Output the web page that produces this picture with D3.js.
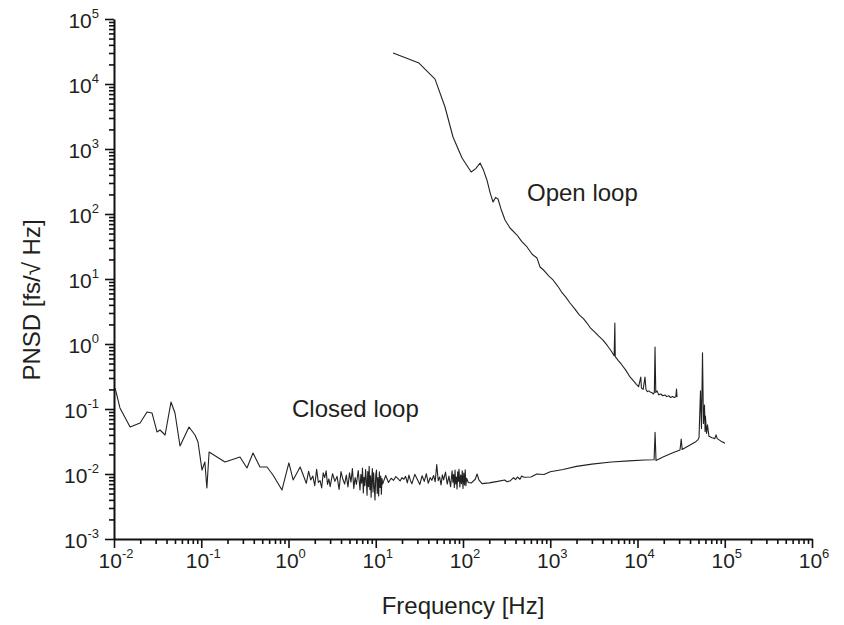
<!DOCTYPE html>
<html><head><meta charset="utf-8">
<script src="https://cdn.jsdelivr.net/npm/d3@7"></script>
<style>
body{margin:0;background:#fff}
text{font-family:"Liberation Sans",Arial,sans-serif;fill:#231f20}
</style>
</head><body>
<svg id="chart" width="844" height="625"></svg>
<script>
// Phase-noise spectral density, closed loop (f in Hz, PNSD in fs/√Hz)
const closedFreq = [
  0.0103,0.0117,0.0153,0.0199,0.0239,0.0273,0.0311,0.0337,0.0385,0.0450,0.0500,0.0571,0.0724,0.0848,0.0918,
  0.102,0.110,0.116,0.123,0.187,0.278,0.334,0.392,0.471,0.567,0.664,0.842,1.01,1.13,1.36,
  1.6,1.7,1.8,1.9,2.0,2.1,2.2,2.3,2.4,2.5,
  2.6,2.7,2.8,2.9,3.0,3.2,3.4,3.6,3.8,4.0,
  4.2,4.4,4.6,4.8,5.0,5.2,5.4,5.6,5.8,6.0,
  6.3,6.6,6.75,6.9,7.05,7.2,7.35,7.5,7.65,7.8,
  7.95,8.1,8.25,8.4,8.55,8.7,8.85,9.0,9.15,9.3,
  9.45,9.6,9.8,10,10.2,10.4,10.6,10.8,11.0,11.2,
  11.4,11.6,11.8,12,
  12.5,13,14,15,16,17,18,19,20,21,
  22,23,24,25,26,28,30,32,34,36,
  38,40,42,44,46,48,50,52,54,56,
  58,60,63,66,69,72,75,76.5,78,79.5,
  81,82.5,84,85.5,87,88.5,90,92,94,96,
  98,100,102,104,106,108,110,
  115,125,138,145,152,165,200,250,300,320,350,380,400,420,450,470,500,600,700,850,1000,1400,2000,3000,5000,8000,12000,
  15500,15900,16300,19600,25000,30700,31700,32500,40000,46000,
  49400,50700,52700,54100,55600,57000,58600,59500,60100,61800,
  63400,65900,71400,77000,79400,82000,90600,100700
];
const closedPsd = [
  0.210,0.104,0.0528,0.0609,0.0899,0.0867,0.0443,0.0475,0.0398,0.128,0.0867,0.0270,0.0528,0.0398,0.0311,
  0.0115,0.0153,0.0061,0.0218,0.0153,0.0183,0.0124,0.0210,0.0128,0.0128,0.00966,0.00568,0.0148,0.00809,0.0128,
  0.0072,0.0110,0.0081,0.0093,0.0066,0.0118,0.0074,0.0079,0.0061,0.0104,
  0.0088,0.0112,0.0069,0.0084,0.0064,0.0101,0.0077,0.0092,0.0058,0.0109,
  0.0083,0.0070,0.0096,0.0063,0.0104,0.0075,0.0121,0.0060,0.0088,0.0069,
  0.0113,0.0057,0.0098,0.0072,0.0124,0.0051,0.0089,0.0066,0.0117,0.0080,
  0.0047,0.0109,0.0064,0.0131,0.0058,0.0094,0.0044,0.0086,0.0121,0.0053,
  0.0104,0.0069,0.0040,0.0097,0.0115,0.0050,0.0088,0.0046,0.0108,0.0062,
  0.0093,0.0049,0.0085,0.0070,
  0.0082,0.0095,0.0074,0.0086,0.0080,0.0091,0.0085,0.0078,0.0088,0.0083,
  0.0092,0.0073,0.0096,0.0079,0.0071,0.0099,0.0082,0.0069,0.0094,0.0077,
  0.0101,0.0072,0.0088,0.0080,0.0095,0.0076,0.0140,0.0079,0.0090,0.0068,
  0.0097,0.0081,0.0107,0.0070,0.0093,0.0064,0.0112,0.0075,0.0098,0.0062,
  0.0115,0.0070,0.0090,0.0059,0.0108,0.0077,0.0118,0.0063,0.0096,0.0071,
  0.0112,0.0060,0.0103,0.0068,0.0116,0.0066,0.0086,
  0.0074,0.0073,0.0083,0.0100,0.0081,0.0071,0.0073,0.0077,0.0081,0.0076,0.0079,0.0088,0.0082,0.0090,0.0083,
  0.0093,0.0089,0.0090,0.0100,0.0098,0.0108,0.0117,0.0131,0.0142,0.0153,0.0159,0.0164,
  0.0166,0.044,0.0162,0.0183,0.0210,0.0234,0.0345,0.0238,0.0279,0.031,
  0.0339,0.036,0.19,0.05,0.73,0.06,0.115,0.045,0.078,0.042,
  0.057,0.038,0.036,0.035,0.040,0.035,0.032,0.0297
];

// Open loop
const openFreq = [
  15.8,31.3,47.8,62.2,76.8,97.5,124,140,157,172,188,205,221,236,252,275,303,346,416,470,542,620,705,764,
  850,960,1076,1200,1350,1500,1684,1900,2150,2400,2637,2900,3200,3600,4024,4500,5000,5400,5500,5560,
  6000,6600,7300,8204,9000,9700,10300,10900,11100,11600,12190,12500,13000,13500,13900,14500,15200,15600,
  15880,16200,16740,17500,18500,19500,20650,21700,22800,24000,25200,26500,27500,28000,28400
];
const openPsd = [
  30000,21000,11900,4430,1530,728,443,500,609,470,334,210,153,180,170,115,80.9,60.9,47.5,38,31.1,24,21.0,15.3,
  13.5,11.2,9.66,8.0,6.3,5.3,4.27,3.5,2.8,2.45,2.10,1.75,1.55,1.32,1.15,0.95,0.78,0.66,2.10,0.64,
  0.56,0.48,0.40,0.311,0.27,0.24,0.22,0.31,0.21,0.20,0.31,0.20,0.185,0.19,0.183,0.18,0.17,0.18,
  0.90,0.18,0.19,0.165,0.17,0.16,0.164,0.155,0.16,0.15,0.156,0.15,0.155,0.203,0.152
];

const xTickExps = [-2,-1,0,1,2,3,4,5,6];
const yTickExps = [-3,-2,-1,0,1,2,3,4,5];
const xTitle = "Frequency [Hz]";
const yTitle = "PNSD [fs/\u221A Hz]";
const seriesLabels = ["Open loop", "Closed loop"];

const svg = d3.select("#chart");
const x = d3.scaleLog().domain([1e-2, 1e6]).range([114, 812]);
const y = d3.scaleLog().domain([1e-3, 1e5]).range([539, 19]);

const majorX = xTickExps.map(e => Math.pow(10, e));
const majorY = yTickExps.map(e => Math.pow(10, e));
const minorsOf = majors => majors.slice(0, -1).flatMap(m => d3.range(2, 10).map(k => k * m));

function styleAxis(g, width) {
  g.selectAll("path").attr("stroke", "#111").attr("stroke-width", width);
  g.selectAll("line").attr("stroke", "#111").attr("stroke-width", 1.6);
  g.selectAll("text").remove();
}

// x axis
svg.append("g").attr("transform", "translate(0,539)")
  .call(d3.axisBottom(x).tickValues(minorsOf(majorX)).tickSize(5).tickSizeOuter(0).tickFormat(""))
  .call(g => { styleAxis(g, 2); g.select("path").remove(); });
svg.append("g").attr("transform", "translate(0,539)")
  .call(d3.axisBottom(x).tickValues(majorX).tickSize(9).tickSizeOuter(0).tickFormat(""))
  .call(g => styleAxis(g, 2));

// y axis
svg.append("g").attr("transform", "translate(114,0)")
  .call(d3.axisLeft(y).tickValues(minorsOf(majorY)).tickSize(5).tickSizeOuter(0).tickFormat(""))
  .call(g => { styleAxis(g, 2); g.select("path").remove(); });
svg.append("g").attr("transform", "translate(114,0)")
  .call(d3.axisLeft(y).tickValues(majorY).tickSize(9).tickSizeOuter(0).tickFormat(""))
  .call(g => styleAxis(g, 2));

// power-of-ten tick labels
function powLabel(sel, e) {
  sel.append("tspan").attr("font-size", 21).text("10");
  sel.append("tspan").attr("font-size", 13).attr("dy", -10).text(e);
}
xTickExps.forEach(e => {
  svg.append("text").attr("x", x(Math.pow(10, e)) + 2).attr("y", 568)
    .attr("text-anchor", "middle").call(powLabel, e);
});
yTickExps.forEach(e => {
  svg.append("text").attr("x", 99).attr("y", y(Math.pow(10, e)) + 9)
    .attr("text-anchor", "end").call(powLabel, e);
});

// axis titles
svg.append("text").attr("x", 463).attr("y", 614).attr("text-anchor", "middle")
  .attr("font-size", 24).text(xTitle);
svg.append("text").attr("transform", "translate(40,300) rotate(-90)").attr("text-anchor", "middle")
  .attr("font-size", 24).text(yTitle);

// spectra
const line = d3.line().x(d => x(d[0])).y(d => y(d[1]));
svg.append("path").datum(d3.zip(closedFreq, closedPsd)).attr("d", line)
  .attr("fill", "none").attr("stroke", "#222").attr("stroke-width", 1.1).attr("stroke-linejoin", "round");
svg.append("path").datum(d3.zip(openFreq, openPsd)).attr("d", line)
  .attr("fill", "none").attr("stroke", "#222").attr("stroke-width", 1.1).attr("stroke-linejoin", "round");

// series labels
svg.append("text").attr("x", 527).attr("y", 201).attr("font-size", 24).text(seriesLabels[0]);
svg.append("text").attr("x", 292).attr("y", 417).attr("font-size", 24).text(seriesLabels[1]);
</script>
</body></html>
